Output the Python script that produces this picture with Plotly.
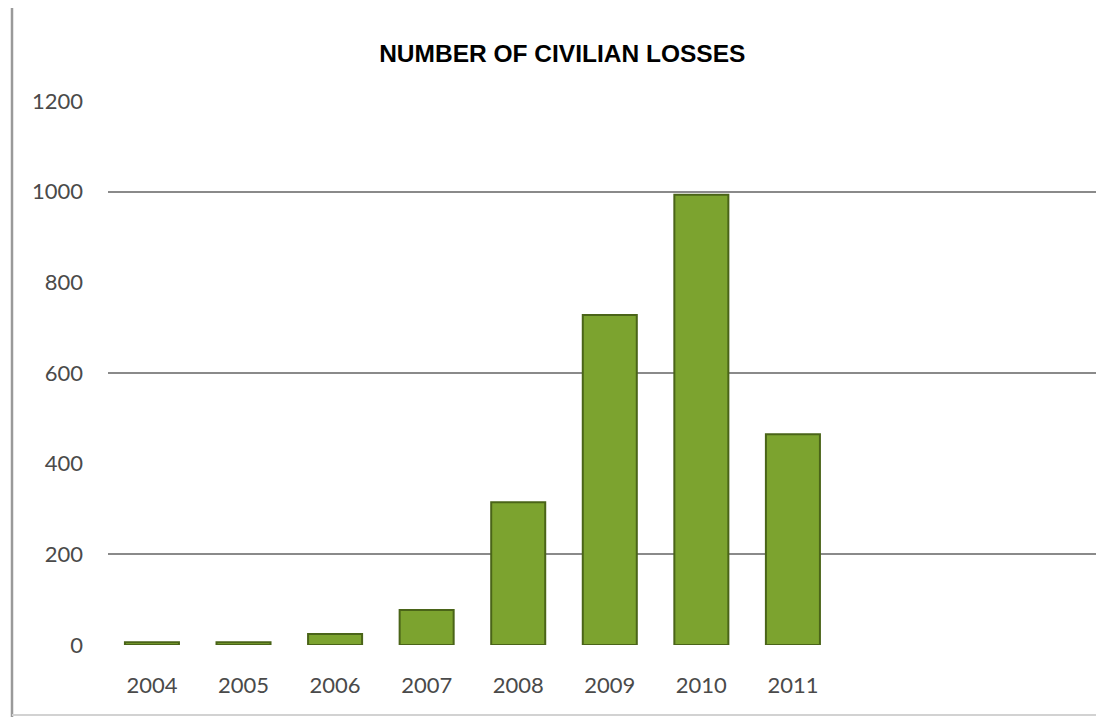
import plotly.graph_objects as go

# Civilian losses per year
years = ["2004", "2005", "2006", "2007", "2008", "2009", "2010", "2011"]
losses = [6, 6, 24, 77, 315, 728, 993, 465]

y_ticks = [0, 200, 400, 600, 800, 1000, 1200]
grid_levels = [200, 600, 1000]

BAR_FILL = "#7ca32f"
BAR_EDGE = "#4a6418"
TICK_FONT = dict(family="Lato, Open Sans, sans-serif", size=22, color="#4a4a4a")

fig = go.Figure()
fig.add_trace(go.Bar(
    x=years,
    y=losses,
    marker=dict(color=BAR_FILL, line=dict(color=BAR_EDGE, width=2)),
    hoverinfo="x+y",
))

fig.update_layout(
    width=1096,
    height=717,
    margin=dict(l=108, r=0, t=101, b=72),
    paper_bgcolor="white",
    plot_bgcolor="white",
    showlegend=False,
    bargap=0.41,
    title=dict(
        text="<b>NUMBER OF CIVILIAN LOSSES</b>",
        x=0.513,
        xanchor="center",
        xref="container",
        y=1 - 53 / 717,
        yanchor="middle",
        yref="container",
        font=dict(family="Liberation Sans, Arial, sans-serif", size=24.5, color="#000000"),
    ),
    xaxis=dict(
        type="category",
        range=[-0.48, 10.31],
        showgrid=False,
        showline=False,
        zeroline=False,
        ticks="",
        tickfont=TICK_FONT,
        ticklabelstandoff=25,
    ),
    yaxis=dict(
        range=[0, 1200],
        tickvals=y_ticks,
        showgrid=False,
        showline=False,
        zeroline=False,
        ticks="",
        tickfont=TICK_FONT,
        ticklabelstandoff=24,
        minor=dict(
            tickvals=grid_levels,
            showgrid=True,
            gridcolor="#8a8a8a",
            gridwidth=2,
            ticks="",
        ),
    ),
)

# Outer frame: left rule and bottom rule of the chart box
fig.add_shape(type="line", xref="paper", yref="paper",
              x0=(12 - 108) / 988, x1=(12 - 108) / 988,
              y0=-72 / 544, y1=1 + 93 / 544,
              line=dict(color="#9a9a9a", width=2.5))
fig.add_shape(type="line", xref="paper", yref="paper",
              x0=(12 - 108) / 988, x1=1,
              y0=-70 / 544, y1=-70 / 544,
              line=dict(color="#d2d2d2", width=2))

fig.write_html("out.html")
